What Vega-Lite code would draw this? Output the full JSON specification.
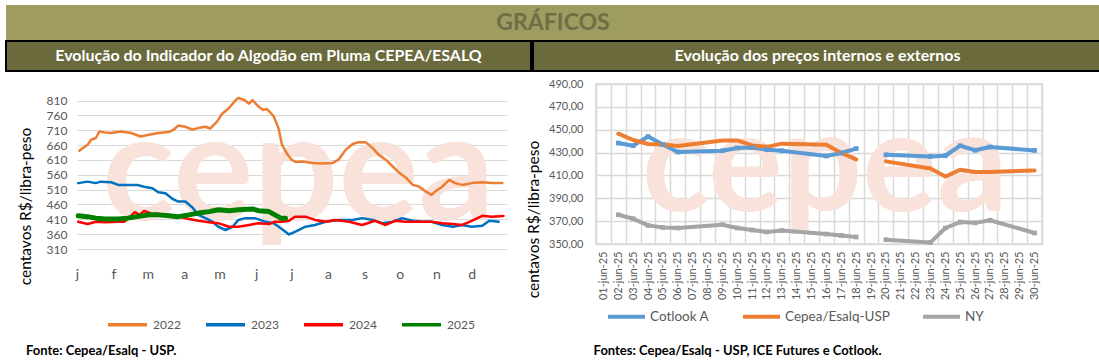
{
  "$schema": "https://vega.github.io/schema/vega-lite/v6.json",
  "background": "white",
  "padding": {"left": 5, "top": 5, "right": 0, "bottom": 0},
  "autosize": {"type": "pad"},
  "config": {
    "view": {"stroke": null},
    "font": "Lato",
    "axis": {"labelFont": "Lato", "titleFont": "Lato"},
    "legend": {"labelFont": "Lato"},
    "title": {"font": "Lato"}
  },
  "datasets": {
    "indicador": [
      {"ano": "2022", "data": "2022-01-03", "valor": 641},
      {"ano": "2022", "data": "2022-01-06", "valor": 650},
      {"ano": "2022", "data": "2022-01-10", "valor": 661},
      {"ano": "2022", "data": "2022-01-13", "valor": 678},
      {"ano": "2022", "data": "2022-01-17", "valor": 684},
      {"ano": "2022", "data": "2022-01-20", "valor": 706},
      {"ano": "2022", "data": "2022-01-24", "valor": 703},
      {"ano": "2022", "data": "2022-01-30", "valor": 701},
      {"ano": "2022", "data": "2022-02-07", "valor": 706},
      {"ano": "2022", "data": "2022-02-16", "valor": 701},
      {"ano": "2022", "data": "2022-02-24", "valor": 689},
      {"ano": "2022", "data": "2022-03-02", "valor": 695},
      {"ano": "2022", "data": "2022-03-10", "valor": 701},
      {"ano": "2022", "data": "2022-03-19", "valor": 704},
      {"ano": "2022", "data": "2022-03-23", "valor": 712},
      {"ano": "2022", "data": "2022-03-27", "valor": 726},
      {"ano": "2022", "data": "2022-04-02", "valor": 722},
      {"ano": "2022", "data": "2022-04-08", "valor": 712},
      {"ano": "2022", "data": "2022-04-13", "valor": 718},
      {"ano": "2022", "data": "2022-04-19", "valor": 722},
      {"ano": "2022", "data": "2022-04-23", "valor": 716},
      {"ano": "2022", "data": "2022-04-29", "valor": 740},
      {"ano": "2022", "data": "2022-05-03", "valor": 765},
      {"ano": "2022", "data": "2022-05-09", "valor": 785},
      {"ano": "2022", "data": "2022-05-15", "valor": 813},
      {"ano": "2022", "data": "2022-05-17", "valor": 819},
      {"ano": "2022", "data": "2022-05-22", "valor": 812},
      {"ano": "2022", "data": "2022-05-26", "valor": 800},
      {"ano": "2022", "data": "2022-05-29", "valor": 812},
      {"ano": "2022", "data": "2022-06-03", "valor": 790},
      {"ano": "2022", "data": "2022-06-07", "valor": 778},
      {"ano": "2022", "data": "2022-06-10", "valor": 782},
      {"ano": "2022", "data": "2022-06-13", "valor": 770},
      {"ano": "2022", "data": "2022-06-16", "valor": 757},
      {"ano": "2022", "data": "2022-06-20", "valor": 718},
      {"ano": "2022", "data": "2022-06-23", "valor": 661},
      {"ano": "2022", "data": "2022-06-27", "valor": 633},
      {"ano": "2022", "data": "2022-07-01", "valor": 611},
      {"ano": "2022", "data": "2022-07-05", "valor": 603},
      {"ano": "2022", "data": "2022-07-10", "valor": 605},
      {"ano": "2022", "data": "2022-07-19", "valor": 600},
      {"ano": "2022", "data": "2022-07-27", "valor": 598},
      {"ano": "2022", "data": "2022-08-05", "valor": 600},
      {"ano": "2022", "data": "2022-08-10", "valor": 611},
      {"ano": "2022", "data": "2022-08-16", "valor": 644},
      {"ano": "2022", "data": "2022-08-22", "valor": 664},
      {"ano": "2022", "data": "2022-08-27", "valor": 670},
      {"ano": "2022", "data": "2022-09-02", "valor": 670},
      {"ano": "2022", "data": "2022-09-08", "valor": 650},
      {"ano": "2022", "data": "2022-09-13", "valor": 628},
      {"ano": "2022", "data": "2022-09-19", "valor": 611},
      {"ano": "2022", "data": "2022-09-25", "valor": 588},
      {"ano": "2022", "data": "2022-09-30", "valor": 569},
      {"ano": "2022", "data": "2022-10-06", "valor": 551},
      {"ano": "2022", "data": "2022-10-12", "valor": 526},
      {"ano": "2022", "data": "2022-10-17", "valor": 521},
      {"ano": "2022", "data": "2022-10-23", "valor": 504},
      {"ano": "2022", "data": "2022-10-28", "valor": 492},
      {"ano": "2022", "data": "2022-10-31", "valor": 504},
      {"ano": "2022", "data": "2022-11-06", "valor": 520},
      {"ano": "2022", "data": "2022-11-12", "valor": 543},
      {"ano": "2022", "data": "2022-11-17", "valor": 532},
      {"ano": "2022", "data": "2022-11-23", "valor": 526},
      {"ano": "2022", "data": "2022-12-01", "valor": 532},
      {"ano": "2022", "data": "2022-12-10", "valor": 535},
      {"ano": "2022", "data": "2022-12-18", "valor": 532},
      {"ano": "2022", "data": "2022-12-27", "valor": 532},
      {"ano": "2023", "data": "2023-01-02", "valor": 532},
      {"ano": "2023", "data": "2023-01-10", "valor": 537},
      {"ano": "2023", "data": "2023-01-17", "valor": 532},
      {"ano": "2023", "data": "2023-01-21", "valor": 537},
      {"ano": "2023", "data": "2023-01-30", "valor": 535},
      {"ano": "2023", "data": "2023-02-05", "valor": 526},
      {"ano": "2023", "data": "2023-02-16", "valor": 526},
      {"ano": "2023", "data": "2023-02-21", "valor": 526},
      {"ano": "2023", "data": "2023-02-27", "valor": 520},
      {"ano": "2023", "data": "2023-03-05", "valor": 515},
      {"ano": "2023", "data": "2023-03-10", "valor": 501},
      {"ano": "2023", "data": "2023-03-16", "valor": 498},
      {"ano": "2023", "data": "2023-03-22", "valor": 479},
      {"ano": "2023", "data": "2023-03-27", "valor": 470},
      {"ano": "2023", "data": "2023-04-02", "valor": 470},
      {"ano": "2023", "data": "2023-04-08", "valor": 450},
      {"ano": "2023", "data": "2023-04-13", "valor": 425},
      {"ano": "2023", "data": "2023-04-19", "valor": 414},
      {"ano": "2023", "data": "2023-04-25", "valor": 402},
      {"ano": "2023", "data": "2023-04-30", "valor": 385},
      {"ano": "2023", "data": "2023-05-06", "valor": 374},
      {"ano": "2023", "data": "2023-05-12", "valor": 385},
      {"ano": "2023", "data": "2023-05-17", "valor": 408},
      {"ano": "2023", "data": "2023-05-23", "valor": 414},
      {"ano": "2023", "data": "2023-05-31", "valor": 414},
      {"ano": "2023", "data": "2023-06-09", "valor": 402},
      {"ano": "2023", "data": "2023-06-16", "valor": 397},
      {"ano": "2023", "data": "2023-06-22", "valor": 380},
      {"ano": "2023", "data": "2023-06-29", "valor": 359},
      {"ano": "2023", "data": "2023-07-04", "valor": 368},
      {"ano": "2023", "data": "2023-07-13", "valor": 385},
      {"ano": "2023", "data": "2023-07-21", "valor": 391},
      {"ano": "2023", "data": "2023-07-30", "valor": 402},
      {"ano": "2023", "data": "2023-08-10", "valor": 408},
      {"ano": "2023", "data": "2023-08-22", "valor": 408},
      {"ano": "2023", "data": "2023-08-30", "valor": 414},
      {"ano": "2023", "data": "2023-09-08", "valor": 408},
      {"ano": "2023", "data": "2023-09-16", "valor": 397},
      {"ano": "2023", "data": "2023-09-25", "valor": 402},
      {"ano": "2023", "data": "2023-10-03", "valor": 414},
      {"ano": "2023", "data": "2023-10-12", "valor": 405},
      {"ano": "2023", "data": "2023-10-20", "valor": 402},
      {"ano": "2023", "data": "2023-10-28", "valor": 402},
      {"ano": "2023", "data": "2023-11-06", "valor": 391},
      {"ano": "2023", "data": "2023-11-15", "valor": 385},
      {"ano": "2023", "data": "2023-11-23", "valor": 391},
      {"ano": "2023", "data": "2023-12-01", "valor": 385},
      {"ano": "2023", "data": "2023-12-10", "valor": 388},
      {"ano": "2023", "data": "2023-12-16", "valor": 405},
      {"ano": "2023", "data": "2023-12-24", "valor": 402},
      {"ano": "2024", "data": "2024-01-02", "valor": 402},
      {"ano": "2024", "data": "2024-01-10", "valor": 394},
      {"ano": "2024", "data": "2024-01-17", "valor": 402},
      {"ano": "2024", "data": "2024-01-25", "valor": 400},
      {"ano": "2024", "data": "2024-02-05", "valor": 402},
      {"ano": "2024", "data": "2024-02-10", "valor": 402},
      {"ano": "2024", "data": "2024-02-14", "valor": 414},
      {"ano": "2024", "data": "2024-02-19", "valor": 434},
      {"ano": "2024", "data": "2024-02-23", "valor": 425},
      {"ano": "2024", "data": "2024-02-27", "valor": 438},
      {"ano": "2024", "data": "2024-03-05", "valor": 428},
      {"ano": "2024", "data": "2024-03-10", "valor": 428},
      {"ano": "2024", "data": "2024-03-19", "valor": 425},
      {"ano": "2024", "data": "2024-03-27", "valor": 419},
      {"ano": "2024", "data": "2024-04-05", "valor": 411},
      {"ano": "2024", "data": "2024-04-13", "valor": 405},
      {"ano": "2024", "data": "2024-04-22", "valor": 400},
      {"ano": "2024", "data": "2024-04-30", "valor": 397},
      {"ano": "2024", "data": "2024-05-09", "valor": 385},
      {"ano": "2024", "data": "2024-05-17", "valor": 385},
      {"ano": "2024", "data": "2024-05-26", "valor": 391},
      {"ano": "2024", "data": "2024-06-03", "valor": 397},
      {"ano": "2024", "data": "2024-06-12", "valor": 394},
      {"ano": "2024", "data": "2024-06-17", "valor": 402},
      {"ano": "2024", "data": "2024-06-23", "valor": 402},
      {"ano": "2024", "data": "2024-06-29", "valor": 405},
      {"ano": "2024", "data": "2024-07-04", "valor": 419},
      {"ano": "2024", "data": "2024-07-13", "valor": 419},
      {"ano": "2024", "data": "2024-07-21", "valor": 408},
      {"ano": "2024", "data": "2024-07-30", "valor": 402},
      {"ano": "2024", "data": "2024-08-07", "valor": 408},
      {"ano": "2024", "data": "2024-08-19", "valor": 402},
      {"ano": "2024", "data": "2024-08-30", "valor": 391},
      {"ano": "2024", "data": "2024-09-10", "valor": 405},
      {"ano": "2024", "data": "2024-09-19", "valor": 391},
      {"ano": "2024", "data": "2024-09-27", "valor": 405},
      {"ano": "2024", "data": "2024-10-06", "valor": 402},
      {"ano": "2024", "data": "2024-10-17", "valor": 402},
      {"ano": "2024", "data": "2024-10-28", "valor": 402},
      {"ano": "2024", "data": "2024-11-06", "valor": 397},
      {"ano": "2024", "data": "2024-11-15", "valor": 394},
      {"ano": "2024", "data": "2024-11-23", "valor": 391},
      {"ano": "2024", "data": "2024-12-01", "valor": 405},
      {"ano": "2024", "data": "2024-12-10", "valor": 422},
      {"ano": "2024", "data": "2024-12-18", "valor": 419},
      {"ano": "2024", "data": "2024-12-28", "valor": 421},
      {"ano": "2025", "data": "2025-01-02", "valor": 422},
      {"ano": "2025", "data": "2025-01-10", "valor": 419},
      {"ano": "2025", "data": "2025-01-17", "valor": 414},
      {"ano": "2025", "data": "2025-01-25", "valor": 411},
      {"ano": "2025", "data": "2025-02-05", "valor": 411},
      {"ano": "2025", "data": "2025-02-13", "valor": 414},
      {"ano": "2025", "data": "2025-02-21", "valor": 419},
      {"ano": "2025", "data": "2025-03-02", "valor": 425},
      {"ano": "2025", "data": "2025-03-10", "valor": 425},
      {"ano": "2025", "data": "2025-03-19", "valor": 422},
      {"ano": "2025", "data": "2025-03-27", "valor": 419},
      {"ano": "2025", "data": "2025-04-05", "valor": 425},
      {"ano": "2025", "data": "2025-04-13", "valor": 431},
      {"ano": "2025", "data": "2025-04-22", "valor": 436},
      {"ano": "2025", "data": "2025-04-30", "valor": 442},
      {"ano": "2025", "data": "2025-05-09", "valor": 439},
      {"ano": "2025", "data": "2025-05-17", "valor": 442},
      {"ano": "2025", "data": "2025-05-29", "valor": 445},
      {"ano": "2025", "data": "2025-06-03", "valor": 439},
      {"ano": "2025", "data": "2025-06-12", "valor": 436},
      {"ano": "2025", "data": "2025-06-17", "valor": 425},
      {"ano": "2025", "data": "2025-06-22", "valor": 414},
      {"ano": "2025", "data": "2025-06-26", "valor": 414}
    ],
    "precos": [
      {"dia": "02-jun-25", "serie": "Cotlook A", "trecho": 1, "valor": 438.3},
      {"dia": "03-jun-25", "serie": "Cotlook A", "trecho": 1, "valor": 436.0},
      {"dia": "04-jun-25", "serie": "Cotlook A", "trecho": 1, "valor": 444.0},
      {"dia": "05-jun-25", "serie": "Cotlook A", "trecho": 1, "valor": 437.0},
      {"dia": "06-jun-25", "serie": "Cotlook A", "trecho": 1, "valor": 430.5},
      {"dia": "09-jun-25", "serie": "Cotlook A", "trecho": 1, "valor": 431.6},
      {"dia": "10-jun-25", "serie": "Cotlook A", "trecho": 1, "valor": 434.0},
      {"dia": "11-jun-25", "serie": "Cotlook A", "trecho": 1, "valor": 434.5},
      {"dia": "12-jun-25", "serie": "Cotlook A", "trecho": 1, "valor": 432.5},
      {"dia": "13-jun-25", "serie": "Cotlook A", "trecho": 1, "valor": 431.6},
      {"dia": "16-jun-25", "serie": "Cotlook A", "trecho": 1, "valor": 427.0},
      {"dia": "17-jun-25", "serie": "Cotlook A", "trecho": 1, "valor": 429.6},
      {"dia": "18-jun-25", "serie": "Cotlook A", "trecho": 1, "valor": 433.5},
      {"dia": "20-jun-25", "serie": "Cotlook A", "trecho": 2, "valor": 428.1},
      {"dia": "23-jun-25", "serie": "Cotlook A", "trecho": 2, "valor": 426.6},
      {"dia": "24-jun-25", "serie": "Cotlook A", "trecho": 2, "valor": 427.2},
      {"dia": "25-jun-25", "serie": "Cotlook A", "trecho": 2, "valor": 436.0},
      {"dia": "26-jun-25", "serie": "Cotlook A", "trecho": 2, "valor": 432.0},
      {"dia": "27-jun-25", "serie": "Cotlook A", "trecho": 2, "valor": 434.9},
      {"dia": "30-jun-25", "serie": "Cotlook A", "trecho": 2, "valor": 431.9},
      {"dia": "02-jun-25", "serie": "Cepea/Esalq-USP", "trecho": 1, "valor": 446.5},
      {"dia": "03-jun-25", "serie": "Cepea/Esalq-USP", "trecho": 1, "valor": 441.0},
      {"dia": "04-jun-25", "serie": "Cepea/Esalq-USP", "trecho": 1, "valor": 437.5},
      {"dia": "05-jun-25", "serie": "Cepea/Esalq-USP", "trecho": 1, "valor": 437.0},
      {"dia": "06-jun-25", "serie": "Cepea/Esalq-USP", "trecho": 1, "valor": 435.8},
      {"dia": "09-jun-25", "serie": "Cepea/Esalq-USP", "trecho": 1, "valor": 440.6},
      {"dia": "10-jun-25", "serie": "Cepea/Esalq-USP", "trecho": 1, "valor": 440.6},
      {"dia": "11-jun-25", "serie": "Cepea/Esalq-USP", "trecho": 1, "valor": 436.3},
      {"dia": "12-jun-25", "serie": "Cepea/Esalq-USP", "trecho": 1, "valor": 435.0},
      {"dia": "13-jun-25", "serie": "Cepea/Esalq-USP", "trecho": 1, "valor": 437.8},
      {"dia": "16-jun-25", "serie": "Cepea/Esalq-USP", "trecho": 1, "valor": 436.9},
      {"dia": "17-jun-25", "serie": "Cepea/Esalq-USP", "trecho": 1, "valor": 429.6},
      {"dia": "18-jun-25", "serie": "Cepea/Esalq-USP", "trecho": 1, "valor": 424.0},
      {"dia": "20-jun-25", "serie": "Cepea/Esalq-USP", "trecho": 2, "valor": 422.3},
      {"dia": "23-jun-25", "serie": "Cepea/Esalq-USP", "trecho": 2, "valor": 416.0},
      {"dia": "24-jun-25", "serie": "Cepea/Esalq-USP", "trecho": 2, "valor": 409.0},
      {"dia": "25-jun-25", "serie": "Cepea/Esalq-USP", "trecho": 2, "valor": 415.0},
      {"dia": "26-jun-25", "serie": "Cepea/Esalq-USP", "trecho": 2, "valor": 413.0},
      {"dia": "27-jun-25", "serie": "Cepea/Esalq-USP", "trecho": 2, "valor": 413.0},
      {"dia": "30-jun-25", "serie": "Cepea/Esalq-USP", "trecho": 2, "valor": 414.4},
      {"dia": "02-jun-25", "serie": "NY", "trecho": 1, "valor": 375.6},
      {"dia": "03-jun-25", "serie": "NY", "trecho": 1, "valor": 372.1},
      {"dia": "04-jun-25", "serie": "NY", "trecho": 1, "valor": 366.3},
      {"dia": "05-jun-25", "serie": "NY", "trecho": 1, "valor": 364.5},
      {"dia": "06-jun-25", "serie": "NY", "trecho": 1, "valor": 364.0},
      {"dia": "09-jun-25", "serie": "NY", "trecho": 1, "valor": 366.9},
      {"dia": "10-jun-25", "serie": "NY", "trecho": 1, "valor": 364.0},
      {"dia": "11-jun-25", "serie": "NY", "trecho": 1, "valor": 362.2},
      {"dia": "12-jun-25", "serie": "NY", "trecho": 1, "valor": 360.5},
      {"dia": "13-jun-25", "serie": "NY", "trecho": 1, "valor": 361.8},
      {"dia": "16-jun-25", "serie": "NY", "trecho": 1, "valor": 358.7},
      {"dia": "17-jun-25", "serie": "NY", "trecho": 1, "valor": 357.5},
      {"dia": "18-jun-25", "serie": "NY", "trecho": 1, "valor": 356.1},
      {"dia": "20-jun-25", "serie": "NY", "trecho": 2, "valor": 353.8},
      {"dia": "23-jun-25", "serie": "NY", "trecho": 2, "valor": 351.4},
      {"dia": "24-jun-25", "serie": "NY", "trecho": 2, "valor": 364.0},
      {"dia": "25-jun-25", "serie": "NY", "trecho": 2, "valor": 369.2},
      {"dia": "26-jun-25", "serie": "NY", "trecho": 2, "valor": 368.5},
      {"dia": "27-jun-25", "serie": "NY", "trecho": 2, "valor": 370.8},
      {"dia": "30-jun-25", "serie": "NY", "trecho": 2, "valor": 359.6}
    ]
  },
  "columns": 1,
  "align": "none",
  "spacing": 5,
  "resolve": {"scale": {"color": "independent", "x": "independent", "y": "independent"}, "legend": {"color": "independent"}},
  "concat": [
    {
      "spacing": 0,
      "vconcat": [
        {
          "width": 1094,
          "height": 35,
          "view": {"fill": "#9e9c60", "stroke": null},
          "data": {"values": [{"t": "GRÁFICOS"}]},
          "mark": {"type": "text", "font": "Lato", "fontSize": 23, "fontWeight": "bold", "color": "#6f6e46"},
          "encoding": {"text": {"field": "t"}}
        },
        {
          "spacing": 0,
          "hconcat": [
            {
              "width": 525,
              "height": 30,
              "view": {"fill": "#6a6a3c", "stroke": "#000000", "strokeWidth": 2},
              "data": {"values": [{"t": "Evolução do Indicador do Algodão em Pluma CEPEA/ESALQ"}]},
              "mark": {"type": "text", "font": "Lato", "fontSize": 16, "fontWeight": "bold", "color": "#ffffff"},
              "encoding": {"text": {"field": "t"}}
            },
            {
              "width": 569,
              "height": 30,
              "view": {"fill": "#6a6a3c", "stroke": "#000000", "strokeWidth": 2},
              "data": {"values": [{"t": "Evolução dos preços internos e externos"}]},
              "mark": {"type": "text", "font": "Lato", "fontSize": 16, "fontWeight": "bold", "color": "#ffffff"},
              "encoding": {"text": {"field": "t"}}
            }
          ]
        }
      ]
    },
    {
      "spacing": 18,
      "resolve": {"scale": {"color": "independent", "x": "independent", "y": "independent"}, "legend": {"color": "independent"}},
      "hconcat": [
        {
          "width": 501,
          "height": 165,
          "view": {"fill": "#ffffff", "stroke": null},
          "title": {"text": "Fonte: Cepea/Esalq - USP.", "orient": "bottom", "anchor": "start", "frame": "bounds", "font": "Lato", "fontSize": 13, "fontWeight": "bold", "color": "#000000", "dx": 20, "offset": 0, "dy": 13},
          "encoding": {
            "x": {
              "field": "data", "type": "temporal", "timeUnit": "utcmonthdate",
              "scale": {"domain": [{"year": 2012, "month": 1, "date": 1, "utc": true}, {"year": 2012, "month": 12, "date": 31, "utc": true}], "range": [71, 501]},
              "axis": {"title": null, "tickCount": "month", "labelExpr": "lower(slice(utcFormat(datum.value, '%b'), 0, 1))", "labelFont": "Lato", "labelFontSize": 14, "labelColor": "#595959", "labelPadding": 18, "ticks": false, "tickSize": 0, "domain": false, "grid": false, "labelFlush": false, "labelOverlap": false, "labelAlign": "center"}
            },
            "y": {
              "field": "valor", "type": "quantitative",
              "scale": {"domain": [310, 866], "nice": false, "zero": false},
              "axis": {"title": "centavos R$/libra-peso", "offset": -71, "titleFont": "Lato", "titleFontSize": 15.5, "titleFontWeight": "normal", "titleColor": "#000000", "titlePadding": 13, "titleY": 122, "values": [310, 360, 410, 460, 510, 560, 610, 660, 710, 760, 810], "labelOverlap": false, "labelFont": "Lato", "labelFontSize": 12, "labelColor": "#595959", "labelPadding": 10, "ticks": false, "tickSize": 0, "domain": false, "gridColor": "#d9d9d9", "gridWidth": 1}
            },
            "color": {
              "field": "ano", "type": "nominal",
              "scale": {"domain": ["2022", "2023", "2024", "2025"], "range": ["#ED7D31", "#0070C0", "#FF0000", "#008000"]},
              "legend": {"orient": "none", "legendX": 100, "legendY": 219, "direction": "horizontal", "title": null, "symbolType": "stroke", "symbolSize": 1521, "symbolStrokeWidth": 3.5, "labelFont": "Lato", "labelFontSize": 12, "labelColor": "#595959", "labelOffset": 4, "columnPadding": 18, "padding": 0}
            }
          },
          "layer": [
            {
              "data": {"values": [{"w": "cepea"}]},
              "mark": {"type": "text", "font": "Lato", "fontSize": 150, "fontWeight": "bold", "color": "#f8e2da", "baseline": "alphabetic", "dy": 53, "dx": 42},
              "encoding": {"text": {"field": "w"}, "x": null, "y": null, "color": null}
            },
            {
              "data": {"name": "indicador"},
              "transform": [{"filter": "datum.ano !== '2025'"}],
              "mark": {"type": "line", "strokeWidth": 2.5, "strokeCap": "round", "strokeJoin": "round"}
            },
            {
              "data": {"name": "indicador"},
              "transform": [{"filter": "datum.ano === '2025'"}],
              "mark": {"type": "line", "strokeWidth": 5, "strokeCap": "round", "strokeJoin": "round"}
            }
          ]
        },
        {
          "width": 446,
          "height": 160,
          "view": {"stroke": "#d9d9d9", "strokeWidth": 1.5},
          "title": {"text": "Fontes: Cepea/Esalq - USP, ICE Futures e Cotlook.", "orient": "bottom", "anchor": "start", "frame": "bounds", "font": "Lato", "fontSize": 13, "fontWeight": "bold", "color": "#000000", "dx": 67, "offset": 20},
          "encoding": {
            "x": {
              "field": "dia", "type": "ordinal", "bandPosition": 0.5,
              "scale": {"type": "band", "paddingInner": 0, "paddingOuter": 0, "domain": ["01-jun-25", "02-jun-25", "03-jun-25", "04-jun-25", "05-jun-25", "06-jun-25", "07-jun-25", "08-jun-25", "09-jun-25", "10-jun-25", "11-jun-25", "12-jun-25", "13-jun-25", "14-jun-25", "15-jun-25", "16-jun-25", "17-jun-25", "18-jun-25", "19-jun-25", "20-jun-25", "21-jun-25", "22-jun-25", "23-jun-25", "24-jun-25", "25-jun-25", "26-jun-25", "27-jun-25", "28-jun-25", "29-jun-25", "30-jun-25"]},
              "axis": {"title": null, "labelAngle": 270, "labelFont": "Lato", "labelFontSize": 11, "labelColor": "#595959", "labelPadding": 7, "ticks": false, "tickSize": 0, "domain": false, "grid": true, "gridColor": "#d9d9d9", "gridWidth": 1.5, "tickBand": "extent", "labelOverlap": false}
            },
            "y": {
              "field": "valor", "type": "quantitative",
              "scale": {"domain": [350, 490], "nice": false, "zero": false},
              "axis": {"title": "centavos R$/libra-peso", "titleFont": "Lato", "titleFontSize": 15.5, "titleFontWeight": "normal", "titleColor": "#000000", "titlePadding": 7, "titleY": 135, "values": [350, 370, 390, 410, 430, 450, 470, 490], "labelOverlap": false, "labelSeparation": 0, "labelExpr": "replace(format(datum.value, '.2f'), '.', ',')", "labelFont": "Lato", "labelFontSize": 11, "labelColor": "#595959", "labelPadding": 13, "ticks": false, "tickSize": 0, "domain": false, "gridColor": "#d9d9d9", "gridWidth": 1.5}
            }
          },
          "layer": [
            {
              "data": {"values": [{"w": "cepea"}]},
              "mark": {"type": "text", "font": "Lato", "fontSize": 140, "fontWeight": "bold", "color": "#f8e2da", "baseline": "alphabetic", "dy": 47, "dx": 6},
              "encoding": {"text": {"field": "w"}, "x": null, "y": null}
            },
            {
              "data": {"name": "precos"},
              "mark": {"type": "line", "strokeWidth": 4, "strokeCap": "round", "strokeJoin": "round"},
              "encoding": {
                "color": {
                  "field": "serie", "type": "nominal",
                  "scale": {"domain": ["Cotlook A", "Cepea/Esalq-USP", "NY"], "range": ["#5B9BD5", "#ED7D31", "#A5A5A5"]},
                  "legend": {"orient": "none", "legendX": 10, "legendY": 212, "direction": "horizontal", "title": null, "symbolType": "stroke", "symbolSize": 1369, "symbolStrokeWidth": 4, "labelFont": "Lato", "labelFontSize": 13.5, "labelColor": "#595959", "labelOffset": 3, "columnPadding": 25, "padding": 0}
                },
                "detail": {"field": "trecho", "type": "nominal"}
              }
            },
            {
              "data": {"name": "precos"},
              "transform": [{"filter": "datum.serie === 'Cotlook A'"}],
              "mark": {"type": "point", "shape": "square", "filled": true, "size": 22, "color": "#5B9BD5", "opacity": 1}
            },
            {
              "data": {"name": "precos"},
              "transform": [{"filter": "datum.serie === 'NY'"}],
              "mark": {"type": "point", "shape": "square", "filled": true, "size": 22, "color": "#A5A5A5", "opacity": 1}
            }
          ]
        }
      ]
    }
  ]
}
